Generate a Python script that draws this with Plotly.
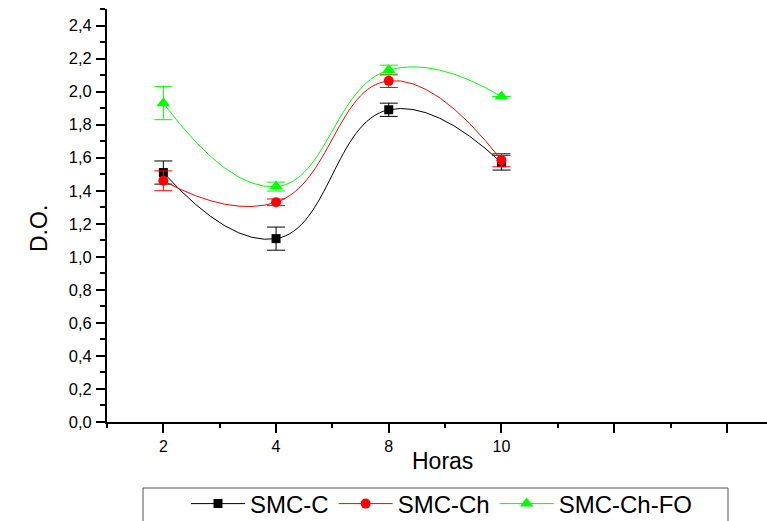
import plotly.graph_objects as go

# Sampling times (hours) shown as evenly spaced categories on the x axis
horas = ["2", "4", "8", "10"]
pos = [1, 2, 3, 4]

# Optical density (D.O.) per formulation, with standard deviations
smc_c = [1.51, 1.11, 1.89, 1.57]
smc_c_err = [0.07, 0.07, 0.04, 0.045]

smc_ch = [1.46, 1.33, 2.065, 1.585]
smc_ch_err = [0.06, 0.02, 0.04, 0.04]

smc_ch_fo = [1.93, 1.425, 2.13, 1.97]
smc_ch_fo_err = [0.10, 0.027, 0.03, 0.0]

FONT = "Arial, Liberation Sans, sans-serif"

series = [
    ("SMC-C", smc_c, smc_c_err, "#000000", "square", 9),
    ("SMC-Ch", smc_ch, smc_ch_err, "#ff0000", "circle", 10),
    ("SMC-Ch-FO", smc_ch_fo, smc_ch_fo_err, "#00ff00", "triangle-up", 12),
]

fig = go.Figure()
for name, vals, errs, color, symbol, size in series:
    fig.add_trace(go.Scatter(
        x=pos, y=vals, name=name, mode="lines+markers",
        line=dict(color=color, width=1, shape="spline", smoothing=1.3),
        marker=dict(color=color, symbol=symbol, size=size),
        error_y=dict(type="data", array=errs, visible=True,
                     color=color, thickness=1, width=9),
    ))

# Page / plot-area geometry in pixels
L, R, T, B, W, H = 107, 0, 9, 99, 767, 521
pw, ph = W - L - R, H - T - B
def px_x(p):
    return (p - L) / pw
def px_y(p):
    return (H - B - p) / ph

# Legend frame drawn as a wide rectangle under the plot
fig.add_shape(type="rect", xref="paper", yref="paper",
              x0=px_x(143), x1=px_x(728), y0=px_y(488), y1=px_y(540),
              line=dict(color="#555555", width=1), fillcolor="rgba(0,0,0,0)")

fig.add_annotation(text="D.O.", xref="paper", yref="paper",
                   x=px_x(24), y=px_y(229), showarrow=False, textangle=-90,
                   font=dict(family=FONT, size=23, color="black"))
fig.add_annotation(text="Horas", xref="paper", yref="paper",
                   x=px_x(442), y=px_y(476), showarrow=False,
                   font=dict(family=FONT, size=23, color="black"))

fig.update_layout(
    width=W, height=H,
    margin=dict(l=L, r=R, t=T, b=B, autoexpand=False),
    paper_bgcolor="white", plot_bgcolor="white",
    separators=",.",
    font=dict(family=FONT, color="black"),
    showlegend=True,
    legend=dict(orientation="h", x=px_x(186), y=px_y(504),
                xanchor="left", yanchor="middle", itemwidth=54,
                font=dict(family=FONT, size=24, color="black"),
                bgcolor="rgba(0,0,0,0)", borderwidth=0),
    xaxis=dict(
        range=[0.5, 0.5 + pw / 112.7],
        tickmode="array", tickvals=[1, 2, 3, 4, 5, 6],
        ticktext=horas + ["", ""],
        ticks="outside", ticklen=9, tickwidth=1.5, tickcolor="black",
        showline=True, linecolor="black", linewidth=2,
        showgrid=False, zeroline=False,
        tickfont=dict(family=FONT, size=16, color="black"),
        ticklabelstandoff=0,
        minor=dict(tickmode="array",
                   tickvals=[0.5, 1.5, 2.5, 3.5, 4.5, 5.5],
                   ticks="outside", ticklen=4, tickwidth=1.5,
                   tickcolor="black", showgrid=False),
    ),
    yaxis=dict(
        range=[0, 2.5],
        tickmode="linear", tick0=0, dtick=0.2, tickformat=".1f",
        ticks="outside", ticklen=9, tickwidth=1.5, tickcolor="black",
        showline=True, linecolor="black", linewidth=2,
        showgrid=False, zeroline=False,
        tickfont=dict(family=FONT, size=16.5, color="black"),
        ticklabelstandoff=1,
        minor=dict(dtick=0.1, tick0=0, ticks="outside", ticklen=5,
                   tickwidth=1.5, tickcolor="black", showgrid=False),
    ),
)

fig.write_html("out.html")
